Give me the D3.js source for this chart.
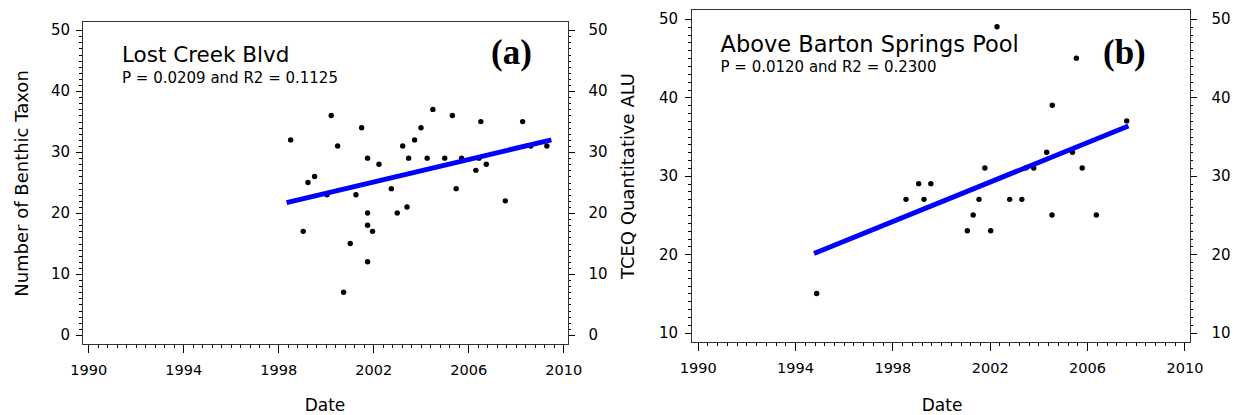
<!DOCTYPE html>
<html>
<head>
<meta charset="utf-8">
<script src="https://cdn.jsdelivr.net/npm/d3@7"></script>
<style>
  body { margin: 0; background: #fff; }
  text { font-family: "DejaVu Sans", sans-serif; fill: #000; }
  .tick line { shape-rendering: crispEdges; }
</style>
</head>
<body>
<svg id="chart" width="1236" height="415"></svg>
<script>
// panel (a) Lost Creek Blvd
const yearsA = [1998.52, 1999.05, 1999.25, 1999.53, 2000.05, 2000.23, 2000.50, 2000.75, 2001.03, 2001.27,
  2001.51, 2001.76, 2001.76, 2001.76, 2001.76, 2001.97, 2002.24, 2002.76, 2003.01, 2003.24,
  2003.42, 2003.49, 2003.74, 2004.01, 2004.27, 2004.51, 2005.01, 2005.33, 2005.49, 2005.72,
  2006.32, 2006.45, 2006.53, 2006.76, 2007.56, 2008.29, 2008.63, 2009.31];
const taxaA = [32, 17, 25, 26, 23, 36, 31, 7, 15, 23,
  34, 29, 20, 18, 12, 17, 28, 24, 20, 31,
  21, 29, 32, 34, 29, 37, 29, 36, 24, 29,
  27, 29, 35, 28, 22, 35, 31, 31];
const trendYearsA = [1998.35, 2009.5];
const trendA = [21.7, 32.0];

// panel (b) Above Barton Springs Pool
const yearsB = [1994.89, 1998.56, 1999.08, 1999.30, 1999.58, 2001.08, 2001.32, 2001.56, 2001.80, 2002.04,
  2002.30, 2002.82, 2003.32, 2003.48, 2003.81, 2004.34, 2004.56, 2004.57, 2005.40, 2005.56,
  2005.80, 2006.38, 2007.63];
const aluB = [15, 27, 29, 27, 29, 23, 25, 27, 31, 23,
  49, 27, 27, 31, 31, 33, 25, 39, 33, 45,
  31, 25, 37];
const trendYearsB = [1994.78, 2007.7];
const trendB = [20.1, 36.35];

const yearTicks = [1990, 1994, 1998, 2002, 2006, 2010];
const yTicksA = [0, 10, 20, 30, 40, 50];
const yTicksB = [10, 20, 30, 40, 50];

const svg = d3.select("#chart");

function panel(cfg) {
  const x = d3.scaleLinear(cfg.xDomain, [cfg.left, cfg.left + cfg.width]);
  const y = d3.scaleLinear(cfg.yDomain, [cfg.top + cfg.height, cfg.top]);
  const g = svg.append("g");

  const minorX = d3.range(0, 51).map(i => yearTicks[0] + i * 0.4)
    .filter((v, i) => i % 10 !== 0);
  const minorY = d3.range(cfg.yTicks[0], cfg.yTicks[cfg.yTicks.length - 1] + 1)
    .filter(v => v % 10 !== 0);

  // minor ticks
  g.append("g").attr("transform", `translate(0,${cfg.top + cfg.height})`)
    .call(d3.axisBottom(x).tickValues(minorX).tickSize(4).tickFormat(""));
  g.append("g").attr("transform", `translate(${cfg.left},0)`)
    .call(d3.axisLeft(y).tickValues(minorY).tickSize(3).tickFormat(""));
  g.append("g").attr("transform", `translate(${cfg.left + cfg.width},0)`)
    .call(d3.axisRight(y).tickValues(minorY).tickSize(3).tickFormat(""));

  // major ticks
  g.append("g").attr("transform", `translate(0,${cfg.top + cfg.height})`)
    .call(d3.axisBottom(x).tickValues(yearTicks).tickSize(8.5).tickPadding(12).tickFormat(d3.format("d")))
    .attr("font-size", 14.5);
  g.append("g").attr("transform", `translate(${cfg.left},0)`)
    .call(d3.axisLeft(y).tickValues(cfg.yTicks).tickSize(6.5).tickPadding(cfg.padL))
    .attr("font-size", 15);
  g.append("g").attr("transform", `translate(${cfg.left + cfg.width},0)`)
    .call(d3.axisRight(y).tickValues(cfg.yTicks).tickSize(6.5).tickPadding(cfg.padR))
    .attr("font-size", 15);

  g.selectAll(".domain").remove();
  g.selectAll(".tick line").attr("stroke", "#000");
  g.selectAll("g").attr("font-family", null);

  // frame
  g.append("rect")
    .attr("x", cfg.left + 0.5).attr("y", cfg.top + 0.5)
    .attr("width", cfg.width).attr("height", cfg.height)
    .attr("fill", "none").attr("stroke", "#333").attr("stroke-width", 1);

  // points
  g.append("g").selectAll("circle")
    .data(cfg.years.map((d, i) => [d, cfg.values[i]]))
    .join("circle")
    .attr("cx", d => x(d[0]))
    .attr("cy", d => y(d[1]))
    .attr("r", 2.7)
    .attr("fill", "#000");

  // regression line
  const line = d3.line().x(d => x(d[0])).y(d => y(d[1]));
  g.append("path")
    .datum(cfg.trendYears.map((d, i) => [d, cfg.trend[i]]))
    .attr("fill", "none")
    .attr("stroke", "#0000ff")
    .attr("stroke-width", 5)
    .attr("d", line);

  // labels
  g.append("text").attr("x", cfg.titleX).attr("y", cfg.titleY)
    .style("font-size", cfg.titleSize + "px").text(cfg.title);
  g.append("text").attr("x", cfg.titleX).attr("y", cfg.statY)
    .style("font-size", "15px").text(cfg.stat);
  g.append("text").attr("x", cfg.tagX).attr("y", 64)
    .style("font-family", "'Liberation Serif', 'DejaVu Serif', serif")
    .style("font-weight", "bold").style("font-size", "35px")
    .text(cfg.tag);
  g.append("text").attr("x", cfg.left + cfg.width / 2 + cfg.dateShift).attr("y", 411)
    .attr("text-anchor", "middle").style("font-size", "17px").text("Date");
  g.append("text")
    .attr("transform", `translate(${cfg.yLabelX},${cfg.yLabelY}) rotate(-90)`)
    .attr("text-anchor", "middle").style("font-size", "18px").text(cfg.yLabel);
}

panel({
  left: 82, top: 21, width: 486, height: 323,
  xDomain: [1989.735, 2010.2], yDomain: [-1.48, 51.5],
  yTicks: yTicksA, padL: 5.5, padR: 14,
  years: yearsA, values: taxaA, trendYears: trendYearsA, trend: trendA,
  title: "Lost Creek Blvd", titleSize: 21.5, titleX: 122, titleY: 62, statY: 82.5,
  stat: "P = 0.0209 and R2 = 0.1125", tag: "(a)", tagX: 491,
  dateShift: 0, yLabel: "Number of Benthic Taxon", yLabelX: 27.5, yLabelY: 183.5
});

panel({
  left: 691, top: 9, width: 499, height: 333,
  xDomain: [1989.725, 2010.23], yDomain: [8.81, 51.27],
  yTicks: yTicksB, padL: 6.5, padR: 15,
  years: yearsB, values: aluB, trendYears: trendYearsB, trend: trendB,
  title: "Above Barton Springs Pool", titleSize: 22.5, titleX: 720.5, titleY: 51.5, statY: 72,
  stat: "P = 0.0120 and R2 = 0.2300", tag: "(b)", tagX: 1103,
  dateShift: 1.6, yLabel: "TCEQ Quantitative ALU", yLabelX: 633.5, yLabelY: 176
});
</script>
</body>
</html>
